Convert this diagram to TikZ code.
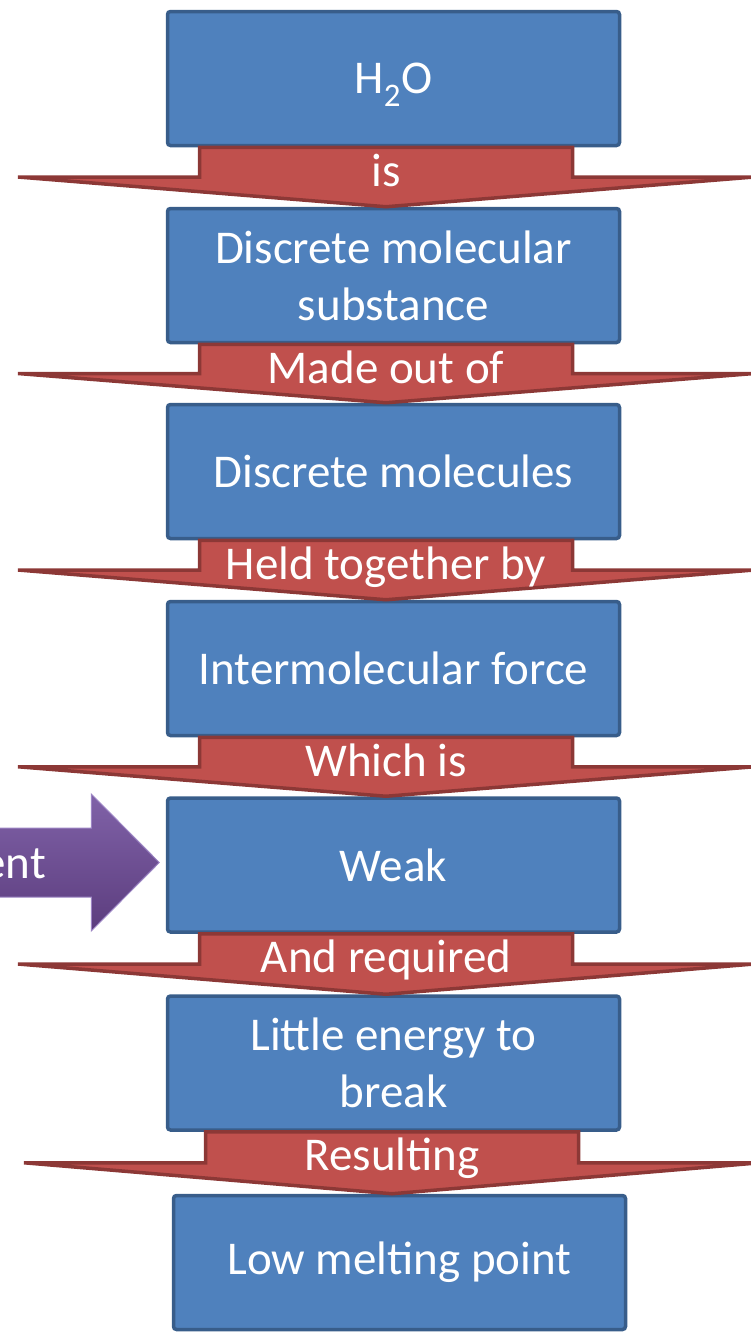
\documentclass[tikz,border=0pt]{standalone}
\usepackage{fontspec}
\setmainfont{Carlito}
\usetikzlibrary{calc}

\definecolor{boxfill}{HTML}{4F81BD}
\definecolor{boxline}{HTML}{385D8A}
\definecolor{linkfill}{HTML}{C0504D}
\definecolor{linkline}{HTML}{8C3836}
\definecolor{sidetop}{HTML}{8062A8}
\definecolor{sidebottom}{HTML}{5C3D7E}
\definecolor{sideline}{HTML}{9C85C4}

\tikzset{
  link/.style={draw=linkline, fill=linkfill, line width=3.5pt,
    to path={let \p1=(\tikztostart.south), \p2=(\tikztotarget.north),
      \p3=($(\p1)!0.5!(\p2)$) in
      (\x2-194pt,\y1) -- (\x2-194pt,\y3) -- (\x2-375.5pt,\y3) -- (\x2-7.5pt,\y2)
      -- (\x2+360.5pt,\y3) -- (\x2+179pt,\y3) -- (\x2+179pt,\y1) -- cycle \tikztonodes}},
  sidelink/.style={draw=sideline, line width=1pt, top color=sidetop, bottom color=sidebottom,
    to path={let \p1=(\tikztostart), \p2=(\tikztotarget.west) in
      (\x1,\y1+34.5pt) -- (\x2-74.5pt,\y1+34.5pt) -- (\x2-74.5pt,\y1+68.5pt)
      -- (\x2-6.5pt,\y1) -- (\x2-74.5pt,\y1-68.5pt) -- (\x2-74.5pt,\y1-34.5pt)
      -- (\x1,\y1-34.5pt) -- cycle}}
}

\begin{document}
\begin{tikzpicture}[x=1pt,y=-1pt,font=\fontsize{47}{57}\selectfont]

        \useasboundingbox (0,0) rectangle (750,1333);

        \begin{scope}[every node/.style={rectangle,draw=boxline,fill=boxfill,line width=3.5pt,
            rounded corners=3pt,minimum width=452pt,minimum height=134pt,text=white,align=center}]
          \node[text depth=0pt] (1)  at (393.5,78.5)   {H\textsubscript{2}O};
          \node (2)  at (393.5,275.5)  {Discrete molecular\\substance};
          \node (3)  at (393.5,471.5)  {Discrete molecules};
          \node (4)  at (393.5,668.5)  {Intermolecular force};
          \node (5)  at (393.5,865)    {Weak};
          \node (6)  at (393.5,1063)   {Little energy to\\break};
          \node (7)  at (399.5,1262.5) {Low melting point};
        \end{scope}

        \begin{scope}[every node/.style={text=white,anchor=base,inner sep=0pt,yshift=-39pt}]

          \begin{scope}[every edge/.style={link}]
            \path (1)  edge node {is} (2);
            \path (2)  edge node {Made out of} (3);
            \path (3)  edge node {Held together by} (4);
            \path (4)  edge node {Which is} (5);
            \path (5)  edge node {And required} (6);
            \path (6)  edge node {Resulting} (7);
          \end{scope}
        \end{scope}

        \coordinate (side) at (-20,862.5);
        \path (side)  edge[sidelink] (5);
        \node[text=white,anchor=base east,inner sep=0pt] (ent) at (46,878) {ent};

      \end{tikzpicture}
\end{document}
